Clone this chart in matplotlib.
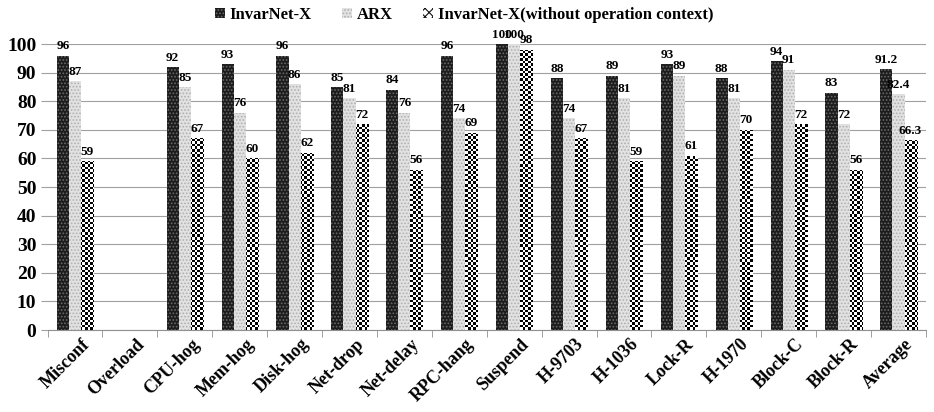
import numpy as np
import matplotlib
matplotlib.use("Agg")
import matplotlib.pyplot as plt
from matplotlib import transforms as mtrans

plt.rcParams['font.family'] = ['Liberation Serif', 'DejaVu Serif']
plt.rcParams['font.weight'] = 'bold'
plt.rcParams['hatch.linewidth'] = 0.8

categories = ["Misconf", "Overload", "CPU-hog", "Mem-hog", "Disk-hog", "Net-drop",
              "Net-delay", "RPC-hang", "Suspend", "H-9703", "H-1036", "Lock-R",
              "H-1970", "Block-C", "Block-R", "Average"]
invarnet = [96, np.nan, 92, 93, 96, 85, 84, 96, 100, 88, 89, 93, 88, 94, 83, 91.2]
arx = [87, np.nan, 85, 76, 86, 81, 76, 74, 100, 74, 81, 89, 81, 91, 72, 82.4]
no_ctx = [59, np.nan, 67, 60, 62, 72, 56, 69, 98, 67, 59, 61, 70, 72, 56, 66.3]
labels_s = ["InvarNet-X", "ARX", "InvarNet-X(without operation context)"]
yticks = list(range(0, 101, 10))

fig = plt.figure(figsize=(9.34, 4.12), dpi=100)
ax = fig.add_axes([0.0509, 0.199, 0.9405, 0.694])

x = np.arange(len(categories))
w = 0.22
series = [invarnet, arx, no_ctx]
styles = [
    dict(facecolor='#1c1c1c', hatch='.....', edgecolor='#6a6a6a'),
    dict(facecolor='#e2e2e2', hatch='.....', edgecolor='#b0b0b0'),
    dict(facecolor='white', edgecolor='#111111'),
]
ax.set_xlim(-0.5, len(categories) - 0.5)
ax.set_ylim(0, 100)

# checkerboard texture (2.5 px cells) for third series
nx, ny = int(884 / 2.5), int(286 / 2.5)
cb = (np.add.outer(np.arange(ny), np.arange(nx)) % 2).astype(float)

handles = []
for i, (vals, st) in enumerate(zip(series, styles)):
    b = ax.bar(x + (i - 1) * w, vals, w, linewidth=0, label=labels_s[i], zorder=3, **st)
    handles.append(b)
    if i == 2:
        for patch in b.patches:
            if np.isnan(patch.get_height()):
                continue
            im = ax.imshow(cb, cmap='gray', vmin=0, vmax=1, interpolation='nearest',
                           extent=(-0.5, len(categories) - 0.5, 0, 100), aspect='auto',
                           zorder=3.5)
            im.set_clip_path(patch)
    for xi, v in zip(x, vals):
        if np.isnan(v):
            continue
        ax.text(xi + (i - 1) * w, v + 1.2, f"{v:g}", ha='center', va='bottom',
                fontsize=9.5, fontweight='bold', zorder=4)

ax.set_xlim(-0.5, len(categories) - 0.5)
ax.set_ylim(0, 100)
ax.set_yticks(yticks)
ax.set_yticklabels([str(t) for t in yticks], fontsize=14, fontweight='bold')
ax.yaxis.grid(True, color='#a0a0a0', linewidth=0.8, zorder=0)
ax.set_axisbelow(True)
for s in ['top', 'right']:
    ax.spines[s].set_visible(False)
ax.spines['left'].set_visible(False)
ax.spines['bottom'].set_color('#909090')
ax.tick_params(axis='y', length=5, color='#a0a0a0', pad=3)

ax.set_xticks(np.arange(len(categories) + 1) - 0.5, minor=True)
ax.set_xticks(x)
ax.tick_params(axis='x', which='minor', length=5, color='#909090')
ax.tick_params(axis='x', which='major', length=0, pad=4)
offset = mtrans.ScaledTranslation(6 / 100, 0, fig.dpi_scale_trans)
ax.set_xticklabels(categories, rotation=45, ha='right', rotation_mode='anchor',
                   fontsize=13, fontweight='bold')
for lab in ax.get_xticklabels():
    lab.set_transform(lab.get_transform() + offset)

# legend handle for checkerboard: use hatch-like appearance
leg_handles = [handles[0], handles[1],
               plt.Rectangle((0, 0), 1, 1, facecolor='white', edgecolor='#111111',
                             hatch='xxxx', linewidth=0)]
fig.legend(handles=leg_handles, labels=labels_s, loc='upper center',
           bbox_to_anchor=(0.497, 1.02), ncol=3, frameon=False,
           handlelength=0.6, handleheight=0.6, columnspacing=1.8, handletextpad=0.3,
           prop={'weight': 'bold', 'size': 12})

fig.savefig("out.png", dpi=100)
